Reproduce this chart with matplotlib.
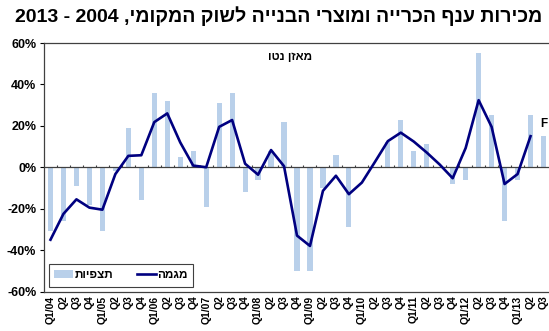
import re
import matplotlib
matplotlib.use('Agg')
import matplotlib.pyplot as plt
from matplotlib.patches import Patch
from matplotlib.lines import Line2D
from matplotlib.ticker import FuncFormatter

plt.rcParams['font.family'] = ['Liberation Sans', 'DejaVu Sans']
plt.rcParams['font.weight'] = 'bold'

# quarterly net balance, percent
quarters = ['Q1/04', 'Q2', 'Q3', 'Q4',
            'Q1/05', 'Q2', 'Q3', 'Q4',
            'Q1/06', 'Q2', 'Q3', 'Q4',
            'Q1/07', 'Q2', 'Q3', 'Q4',
            'Q1/08', 'Q2', 'Q3', 'Q4',
            'Q1/09', 'Q2', 'Q3', 'Q4',
            'Q1/10', 'Q2', 'Q3', 'Q4',
            'Q1/11', 'Q2', 'Q3', 'Q4',
            'Q1/12', 'Q2', 'Q3', 'Q4',
            'Q1/13', 'Q2', 'Q3']
observed = [-31, -26, -9, -18,
            -31, -2, 19, -16,
            36, 32, 5, 8,
            -19, 31, 36, -12,
            -6, 8, 22, -50,
            -50, -10, 6, -29,
            0, 0, 12, 23,
            8, 11, 0, -8,
            -6, 55, 25, -26,
            -6, 25, 15]
trend = [-35, -22.5, -15.5, -19.5,
         -20.5, -3.3, 5.5, 5.8,
         21.8, 26, 12, 0.8,
         0, 19.5, 22.8, 1.7,
         -3.6, 8.3, 0.5, -33,
         -38, -11.4, -4.1, -13,
         -7.4, 2.5, 12.6, 16.7,
         12.4, 7.1, 1.3, -5.3,
         9.3, 32.4, 19.5, -8.1,
         -3.3, 15]

title = 'מכירות ענף הכרייה ומוצרי הבנייה לשוק המקומי, 2004 - 2013'
subtitle = 'מאזן נטו'
label_obs = 'תצפיות'
label_trend = 'מגמה'
forecast_mark = 'F'


def visual(s):
    # matplotlib lays text out left to right, so put Hebrew in display order
    r = s[::-1]
    return re.sub(r'\d+', lambda m: m.group(0)[::-1], r)


bar_color = '#b9d0ea'
line_color = '#000080'

fig = plt.figure(figsize=(5.49, 3.31), dpi=100)
ax = fig.add_axes([44 / 549, 39.5 / 331, 506 / 549, 248.5 / 331])

x = list(range(len(quarters)))
ax.bar(x, observed, width=0.4, color=bar_color, zorder=2)
ax.plot(list(range(len(trend))), trend, color=line_color, lw=1.9, zorder=4)

# zero axis with small ticks between quarters
ax.axhline(0, color='#404040', lw=0.9, zorder=3)
ax.vlines([i + 0.5 for i in range(len(quarters) - 1)], 0, 1.3,
          color='#404040', lw=0.8, zorder=3)

ax.text(x[-1], observed[-1] + 3.2, forecast_mark, ha='center', va='bottom',
        fontsize=8.5, fontweight='bold')

ax.set_xlim(-0.5, len(quarters) - 0.5)
ax.set_ylim(-60, 60)
ax.set_yticks(range(-60, 61, 20))
ax.yaxis.set_major_formatter(FuncFormatter(lambda v, p: f'{int(v)}%'))
ax.set_xticks(x)
ax.set_xticklabels(quarters, rotation=90, fontsize=7.5, fontweight='bold')
ax.tick_params(axis='x', length=0, pad=3)
ax.tick_params(axis='y', length=3, width=0.8, pad=2.5, labelsize=9)
for lbl in ax.get_yticklabels():
    lbl.set_fontweight('bold')

for side in ['left', 'bottom', 'top']:
    ax.spines[side].set_color('#404040')
    ax.spines[side].set_linewidth(0.9)
ax.spines['right'].set_visible(False)

fig.text(0.508, 0.922, visual(title), ha='center', va='bottom',
         fontsize=14, fontweight='bold')
ax.text(0.486, 0.944, visual(subtitle), transform=ax.transAxes,
        ha='center', va='center', fontsize=8.5, fontweight='bold')

handles = [Patch(facecolor=bar_color, edgecolor='none'),
           Line2D([0], [0], color=line_color, lw=1.9)]
leg = ax.legend(handles, [visual(label_obs), visual(label_trend)],
                ncol=2, loc='upper left', bbox_to_anchor=(0.0099, 0.1107),
                borderaxespad=0, fancybox=False, framealpha=1,
                edgecolor='#404040', prop={'size': 8.5, 'weight': 'bold'},
                handlelength=1.6, handletextpad=0.1, columnspacing=2.0,
                borderpad=0.45)
leg.get_frame().set_linewidth(0.8)

fig.savefig('out.png', dpi=100)
